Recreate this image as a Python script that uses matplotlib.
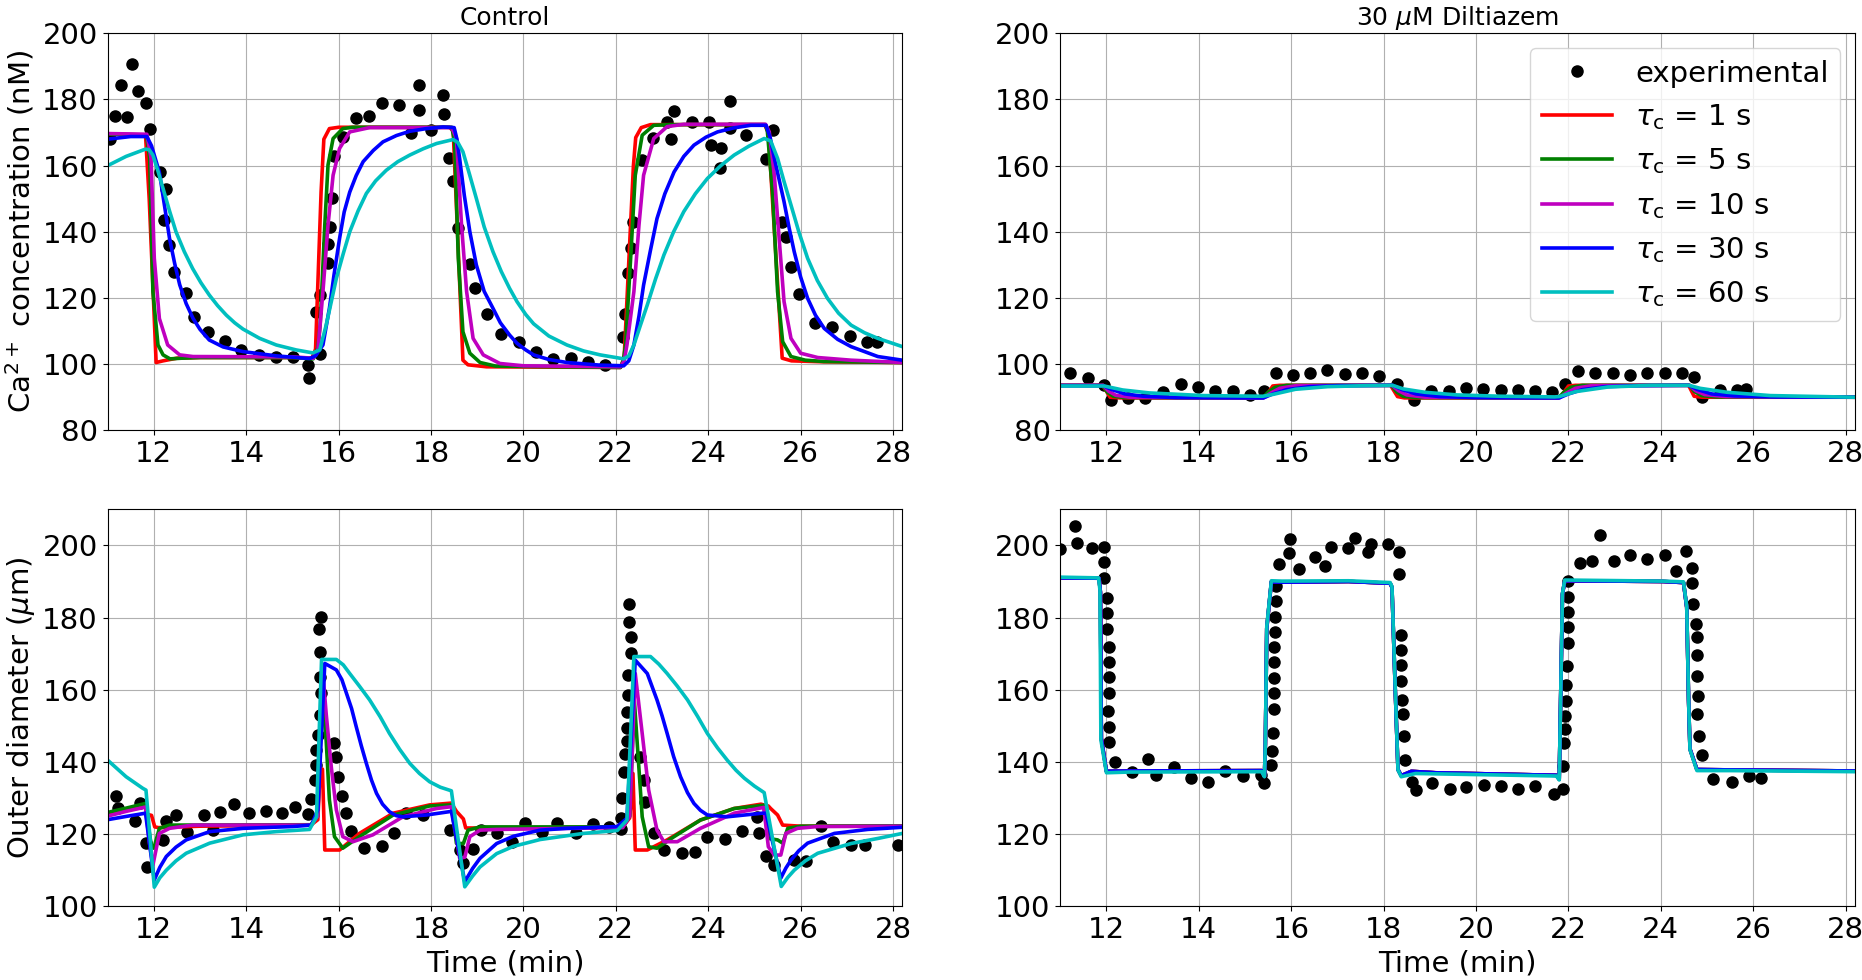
import numpy as np
from matplotlib import pyplot as plt

# ---- experimental data (time in min, value) ----

ca_ctl_exp = [(11.05,168.2),(11.17,175.1),(11.28,184.5),(11.42,174.8),(11.52,190.6),(11.65,182.6),
              (11.82,178.9),(11.91,171.1),(12.14,158.1),(12.23,143.5),(12.27,152.8),(12.32,136.0),
              (12.43,127.9),(12.69,121.4),(12.88,114.3),(13.17,109.6),(13.53,107.0),(13.89,104.3),
              (14.27,102.8),(14.64,102.3),(15.01,102.1),(15.34,99.7),(15.35,95.9),(15.52,115.9),
              (15.60,103.0),(15.60,121.0),(15.77,130.5),(15.78,136.2),(15.82,141.5),(15.86,150.3),
              (15.91,162.9),(16.09,168.7),(16.37,174.5),(16.65,175.0),(16.93,179.0),(17.31,178.3),
              (17.57,170.0),(17.73,184.4),(17.75,176.7),(17.99,170.7),(18.25,181.4),(18.27,175.5),
              (18.39,162.2),(18.48,155.4),(18.59,141.3),(18.84,130.3),(18.96,122.9),(19.22,115.1),
              (19.52,109.0),(19.91,106.6),(20.27,103.8),(20.65,101.5),(21.02,102.0),(21.40,100.7),
              (21.77,99.7),(22.16,108.1),(22.19,115.3),(22.27,127.7),(22.32,135.0),(22.37,143.0),
              (22.57,161.7),(22.81,168.4),(23.11,173.3),(23.19,168.2),(23.26,176.4),(23.64,173.3),
              (24.02,173.3),(24.05,166.2),(24.25,159.4),(24.27,165.4),(24.47,179.5),(24.47,171.4),
              (24.81,169.2),(25.25,162.0),(25.41,170.7),(25.59,143.0),(25.68,138.3),(25.79,129.3),
              (25.96,121.3),(26.30,112.3),(26.68,111.2),(27.06,108.5),(27.43,106.8),(27.66,106.8)]

ca_dil_exp = [(11.22,97.4),(11.61,95.8),(11.95,93.8),(12.09,89.3),(12.47,89.9),(12.84,89.9),
              (13.23,91.7),(13.61,94.1),(13.99,93.1),(14.36,91.8),(14.73,91.8),(15.11,90.8),
              (15.41,91.8),(15.66,97.4),(16.03,96.6),(16.40,97.2),(16.78,98.2),(17.16,97.0),
              (17.54,97.4),(17.91,96.4),(18.29,94.1),(18.66,89.1),(19.03,92.0),(19.41,92.0),
              (19.78,92.7),(20.15,92.5),(20.53,92.1),(20.90,92.1),(21.28,92.0),(21.65,91.7),
              (21.93,94.0),(22.21,98.0),(22.58,97.2),(22.96,97.2),(23.33,96.8),(23.70,97.4),
              (24.08,97.4),(24.45,97.4),(24.71,96.2),(24.89,90.1),(25.27,92.1),(25.64,92.3),
              (25.85,92.5)]

d_ctl_exp = [(11.18,130.6),(11.22,127.1),(11.60,123.7),(11.69,128.5),(11.82,117.5),(11.85,111.0),
             (12.20,118.4),(12.27,123.7),(12.47,125.3),(12.71,120.7),(13.08,125.3),(13.28,121.1),
             (13.44,126.0),(13.74,128.3),(14.06,125.8),(14.42,126.4),(14.78,125.8),(15.06,127.4),
             (15.34,125.5),(15.40,129.6),(15.49,135.0),(15.50,139.2),(15.52,143.3),(15.55,147.5),
             (15.60,153.0),(15.62,159.0),(15.60,163.6),(15.60,170.5),(15.57,176.7),(15.62,180.1),
             (15.89,145.2),(15.95,141.5),(15.99,135.9),(16.08,130.6),(16.17,125.8),(16.27,121.0),
             (16.54,116.1),(16.93,116.7),(17.19,120.4),(17.45,125.8),(17.83,125.3),(18.41,121.2),
             (18.62,115.6),(18.70,112.0),(18.91,115.9),(19.09,121.2),(19.42,120.4),(19.75,117.8),
             (20.04,123.0),(20.40,120.7),(20.72,123.0),(21.14,120.2),(21.50,122.8),(21.85,122.1),
             (22.11,121.3),(22.11,124.4),(22.13,129.9),(22.17,137.3),(22.19,142.2),(22.24,145.8),
             (22.24,149.3),(22.24,153.7),(22.26,158.5),(22.27,164.2),(22.32,170.3),(22.32,174.7),
             (22.28,178.9),(22.28,183.7),(22.52,141.5),(22.60,135.0),(22.64,129.0),(22.82,120.2),
             (23.05,115.6),(23.43,114.7),(23.72,115.0),(23.98,119.3),(24.36,118.6),(24.72,121.0),
             (25.05,124.8),(25.10,120.4),(25.25,113.9),(25.43,111.4),(25.86,112.8),(26.11,112.6),
             (26.45,122.3),(26.71,117.9),(27.08,117.0),(27.40,117.0),(28.10,117.0)]

d_dil_exp = [(11.00,199.0),(11.32,205.5),(11.36,200.7),(11.68,199.4),(11.94,199.6),(11.94,195.5),
             (11.95,191.1),(12.01,185.3),(12.01,181.2),(12.01,176.9),(12.06,171.9),(12.06,167.6),
             (12.06,163.4),(12.06,159.0),(12.04,154.2),(12.06,149.8),(12.06,145.6),(12.19,140.0),
             (12.56,137.3),(12.90,140.9),(13.08,136.3),(13.46,138.7),(13.83,135.5),(14.19,134.5),
             (14.57,137.4),(14.95,136.1),(15.34,136.3),(15.42,134.1),(15.56,139.1),(15.58,143.0),
             (15.60,148.1),(15.62,154.7),(15.62,159.0),(15.63,163.3),(15.63,167.6),(15.63,171.9),
             (15.64,176.1),(15.64,180.2),(15.66,184.7),(15.68,188.7),(15.74,194.8),(15.96,198.0),
             (15.98,201.8),(16.17,193.4),(16.51,196.7),(16.72,194.4),(16.87,199.6),(17.23,199.3),
             (17.37,202.1),(17.66,198.1),(17.73,200.3),(18.09,200.4),(18.34,198.1),(18.34,192.2),
             (18.38,175.3),(18.38,171.0),(18.38,166.9),(18.38,162.5),(18.40,157.2),(18.42,153.2),
             (18.44,147.3),(18.47,140.5),(18.61,134.5),(18.70,132.2),(19.05,134.3),(19.43,132.4),
             (19.79,133.1),(20.17,133.7),(20.53,133.3),(20.91,132.6),(21.27,133.3),(21.68,131.1),
             (21.89,132.6),(21.89,139.0),(21.91,145.2),(21.92,149.0),(21.93,152.7),(21.94,157.0),
             (21.94,161.3),(21.96,166.7),(21.99,173.0),(21.99,177.4),(21.99,181.6),(22.00,185.8),
             (21.99,190.1),(22.25,195.2),(22.52,195.8),(22.68,202.9),(22.98,195.8),(23.34,197.4),
             (23.71,196.3),(24.10,197.4),(24.32,193.0),(24.54,198.5),(24.68,193.6),(24.68,189.5),
             (24.70,183.9),(24.75,178.2),(24.78,174.7),(24.78,169.5),(24.78,163.8),(24.80,158.3),
             (24.79,153.2),(24.82,147.2),(24.89,141.9),(25.12,135.4),(25.53,134.5),(25.90,136.1),
             (26.16,135.6)]

# ---- model curves, one per tau_c ----

ca_ctl_tau1 = [(11.0,169.5),(11.82,169.3),(11.9,150),(12.05,100.5),(12.2,101.0),(12.5,101.8),(13.0,102.0),
               (15.0,102.0),(15.42,101.8),(15.5,104.5),(15.62,152),(15.68,168),(15.8,171.2),(16.0,171.6),
               (18.4,171.6),(18.48,170.5),(18.69,101.2),(18.8,99.8),(19.2,99.2),(22.1,99.0),(22.18,102),
               (22.38,160),(22.43,168.5),(22.55,171.5),(22.75,172.4),(25.22,172.4),(25.3,170),(25.6,101.8),
               (25.8,101.0),(26.5,100.7),(28.2,100.5)]
ca_ctl_tau5 = [(11.0,169.5),(11.84,169.3),(11.91,162.2),(11.98,121.9),(12.09,105.8),(12.2,102.8),(12.35,101.6),
               (12.6,101.8),(13.0,102.0),(15.0,102.0),(15.45,101.6),(15.55,105),(15.6,111.8),(15.7,142),
               (15.77,160.2),(15.88,168.2),(16.09,171.2),(16.3,171.6),(18.45,171.6),(18.51,167.2),(18.59,132),
               (18.69,109.8),(18.84,103.3),(19.06,100.5),(19.4,99.4),(22.1,99.0),(22.16,101),(22.21,105.8),
               (22.32,132),(22.42,157.1),(22.57,169.2),(22.82,172.2),(23.2,172.4),(25.24,172.4),(25.28,170.2),
               (25.39,152.1),(25.5,121.9),(25.61,106.8),(25.79,102.3),(26.1,101.2),(26.5,100.8),(28.2,100.5)]
ca_ctl_tau10 = [(11.0,169.7),(11.85,169.5),(11.94,162.2),(12.01,132),(12.12,113.8),(12.3,105.8),(12.56,102.8),
                (12.85,102.3),(15.0,102.2),(15.45,101.8),(15.55,104),(15.66,121.9),(15.77,142),(15.88,157.1),
                (16.02,165.2),(16.24,170.2),(16.67,171.5),(18.45,171.5),(18.55,168.2),(18.66,142),(18.77,121.9),
                (18.91,107.8),(19.13,102.8),(19.49,100.2),(20.0,99.5),(22.1,99.2),(22.18,101),(22.24,105.8),
                (22.39,121.9),(22.5,142),(22.6,157.1),(22.82,168.2),(23.11,171.8),(23.47,172.5),(25.24,172.5),
                (25.32,170.2),(25.43,157.1),(25.54,136.9),(25.64,118.9),(25.79,107.8),(26.0,103.3),(26.37,102),
                (27.09,101.2),(28.2,100.5)]
ca_ctl_tau30 = [(11.0,168.0),(11.5,168.8),(11.85,168.8),(11.95,166),(12.12,158),(12.23,148),(12.34,138),
                (12.45,130.5),(12.56,124),(12.7,118.3),(12.85,113.8),(13.0,110.5),(13.2,107.3),(13.5,105.2),
                (13.93,103.8),(14.65,102.5),(15.37,101.7),(15.5,102.5),(15.66,105.8),(15.8,116.9),(15.9,127),
                (16.02,138),(16.12,146),(16.24,152),(16.38,157),(16.53,161.2),(16.75,164.6),(16.96,167.2),
                (17.25,169.1),(17.54,170.4),(17.9,171.2),(18.26,171.7),(18.5,171.5),(18.56,168),(18.62,162),
                (18.72,151),(18.84,140),(18.98,130),(19.15,122),(19.34,116.9),(19.5,112.5),(19.7,108.8),
                (19.86,106.3),(20.05,104.3),(20.22,102.8),(20.55,101.4),(20.94,100.5),(21.66,99.7),(22.17,99.5),
                (22.28,101),(22.39,105.8),(22.5,114.5),(22.6,123.9),(22.75,134.5),(22.89,144),(23.06,151.5),
                (23.26,158.1),(23.47,162.8),(23.69,166.2),(23.95,168.6),(24.2,170.2),(24.55,171.4),(24.92,172.2),
                (25.25,172.2),(25.34,168.5),(25.43,162.2),(25.53,156),(25.64,149.1),(25.75,141.2),(25.86,134),
                (26.0,126.3),(26.15,119.9),(26.32,114.8),(26.51,110.8),(26.8,107.5),(27.09,105.3),(27.67,102.3),
                (28.2,101.2)]
ca_ctl_tau60 = [(11.0,160.0),(11.4,162.8),(11.82,165.0),(11.9,164.8),(11.98,163.2),(12.08,158.8),(12.2,153.1),
                (12.34,146.3),(12.48,140),(12.66,134.0),(12.84,128.9),(13.02,124.6),(13.2,120.9),(13.38,117.7),
                (13.57,114.8),(13.75,112.5),(13.93,110.6),(14.29,107.8),(14.65,105.8),(15.08,104.3),(15.44,103.4),
                (15.59,104.3),(15.73,111.8),(15.84,118.8),(15.95,125.9),(16.1,133.4),(16.24,140),(16.42,146.3),
                (16.6,151.6),(16.8,155.4),(17.03,158.6),(17.28,161.2),(17.54,163.2),(17.83,165.1),(18.12,166.7),
                (18.48,167.9),(18.58,167.0),(18.69,164.2),(18.83,157.5),(18.98,150.1),(19.15,141.5),(19.34,134),
                (19.52,128),(19.7,122.9),(19.86,118.9),(20.05,115.0),(20.22,112.2),(20.55,108.5),(20.94,105.8),
                (21.3,104.0),(21.66,102.8),(22.17,101.6),(22.28,102.5),(22.39,105.8),(22.53,111.7),(22.68,117.9),
                (22.86,125.8),(23.04,133),(23.25,140.0),(23.47,146.1),(23.72,151.5),(23.98,156.1),(24.27,160.0),
                (24.56,163.2),(24.88,165.9),(25.21,168.2),(25.35,167.5),(25.5,162.2),(25.64,155.2),(25.79,148.1),
                (25.96,140.0),(26.15,132),(26.36,125.3),(26.58,119.9),(26.82,115.4),(27.09,111.8),(27.38,109.5),
                (27.67,107.8),(28.2,105.3)]

ca_dil_tau1 = [(11.0,93.6),(11.92,93.6),(12.08,90.0),(12.3,89.8),(15.35,89.8),(15.45,90.2),(15.6,93.4),
               (15.75,93.6),(18.15,93.6),(18.3,90.2),(18.45,89.8),(21.75,89.8),(21.85,90.5),(22.0,93.4),
               (22.15,93.6),(24.6,93.6),(24.72,90.3),(24.9,90.0),(28.2,90.0)]
ca_dil_tau5 = [(11.0,93.6),(11.92,93.6),(12.02,91.5),(12.15,90.3),(12.4,89.9),(15.38,89.8),(15.5,91.5),
               (15.65,93.0),(15.9,93.6),(18.17,93.6),(18.28,91.6),(18.42,90.3),(18.7,89.9),(21.78,89.8),
               (21.9,91.5),(22.05,93.0),(22.3,93.6),(24.62,93.6),(24.72,91.8),(24.88,90.5),(25.2,90.1),(28.2,90.0)]
ca_dil_tau10 = [(11.0,93.6),(11.93,93.6),(12.05,91.8),(12.2,90.6),(12.5,90.0),(15.4,89.8),(15.55,91.2),
                (15.75,92.7),(16.1,93.5),(18.18,93.6),(18.32,92.0),(18.5,90.7),(18.9,90.0),(21.8,89.8),
                (21.95,91.2),(22.15,92.7),(22.5,93.5),(24.62,93.6),(24.75,92.0),(24.95,90.8),(25.4,90.2),(28.2,90.0)]
ca_dil_tau30 = [(11.0,93.5),(11.93,93.5),(12.1,92.4),(12.4,91.0),(12.8,90.3),(13.5,89.9),(15.4,89.8),
                (15.6,91.0),(15.9,92.3),(16.4,93.2),(17.0,93.5),(18.2,93.6),(18.4,92.3),(18.7,91.0),(19.2,90.2),
                (20.0,89.9),(21.8,89.8),(22.0,91.0),(22.3,92.3),(22.8,93.2),(23.5,93.5),(24.6,93.6),(24.8,92.3),
                (25.1,91.0),(25.6,90.4),(26.5,90.1),(28.2,90.0)]
ca_dil_tau60 = [(11.0,93.4),(11.95,93.4),(12.35,92.2),(12.93,91.3),(13.52,90.9),(14.1,90.5),(15.39,90.3),
                (15.62,90.9),(16.09,92.4),(16.79,93.2),(17.61,93.5),(18.19,93.6),(18.43,92.5),(18.89,91.5),
                (19.59,90.7),(20.53,90.3),(21.7,90.1),(21.8,90.2),(22.16,91.7),(22.86,93.1),(23.8,93.6),
                (24.61,93.6),(24.85,92.7),(25.43,91.5),(26.37,90.5),(28.2,90.0)]

d_ctl_tau1 = [(11.0,125.5),(11.4,126.8),(11.82,128.1),(11.85,125.5),(11.95,125.2),(12.02,122),(12.1,121.8),
              (13.0,122.2),(15.4,122.5),(15.55,124),(15.6,138),(15.65,138),(15.7,115.6),(16.02,115.6),
              (16.45,120.2),(17.18,125.8),(17.97,128.1),(18.44,128.6),(18.55,126.3),(18.7,124.2),(18.75,121.7),
              (19.06,121.7),(20.0,121.7),(22.15,122.0),(22.3,124.5),(22.37,136.8),(22.42,115.6),(22.68,115.6),
              (23.11,118.4),(23.83,123.9),(24.56,127.1),(25.14,128.3),(25.3,127.8),(25.35,127.1),(25.5,125.3),
              (25.61,122.5),(26.0,122.2),(28.2,122.2)]
d_ctl_tau5 = [(11.0,126.0),(11.4,127.2),(11.82,128.5),(11.86,124),(11.95,116.5),(12.0,116.1),(12.12,121.6),
              (12.34,122.5),(15.4,122.6),(15.55,125),(15.63,160),(15.73,146),(15.8,129.5),(15.91,119.3),
              (16.09,116.1),(16.45,119.3),(17.18,125.3),(17.97,127.8),(18.44,128.1),(18.55,117.4),(18.7,117.4),
              (18.8,121.1),(19.06,122.0),(22.15,122.0),(22.3,125),(22.4,157),(22.57,124.8),(22.71,116.5),
              (22.89,116.1),(23.26,119.3),(23.83,123.9),(24.56,127.1),(25.2,128.0),(25.3,118.8),(25.5,118.4),
              (25.61,117.5),(25.72,121.6),(26.0,122.2),(28.2,122.3)]
d_ctl_tau10 = [(11.0,125.0),(11.4,126.3),(11.82,127.5),(11.9,118),(11.98,111.4),(12.12,120.2),(12.34,121.6),
               (12.84,122.5),(15.4,122.5),(15.55,125),(15.66,164.5),(15.73,153.4),(15.84,138.7),(15.95,126.7),
               (16.09,119.3),(16.31,117.9),(16.74,119.8),(17.39,124.8),(18.12,127.1),(18.44,127.6),(18.62,113.3),
               (18.73,113.6),(18.84,119.3),(19.06,121.1),(19.42,121.3),(22.15,121.8),(22.3,125),(22.42,164.5),
               (22.57,147.9),(22.71,132.2),(22.89,121.1),(23.04,117.9),(23.33,117.9),(23.83,121.6),(24.56,125.8),
               (25.2,127.4),(25.3,116.5),(25.43,114.2),(25.57,114.2),(25.68,120.2),(25.93,121.6),(26.37,122.1),
               (28.2,122.2)]
d_ctl_tau30 = [(11.0,124.0),(11.4,124.9),(11.82,125.8),(12.01,107.3),(12.13,110.8),(12.27,113.8),(12.48,116.4),
               (12.7,118.4),(13.21,120.7),(13.93,121.6),(15.01,122.1),(15.41,122.5),(15.55,126.7),(15.7,167.3),
               (15.95,165.5),(16.07,162.8),(16.17,159),(16.28,154.8),(16.38,149.8),(16.49,144.5),(16.6,139.6),
               (16.71,135.0),(16.82,131.3),(16.95,128.3),(17.1,126.2),(17.25,125.1),(17.39,124.8),(17.9,125.3),
               (18.44,126.3),(18.73,106.8),(18.9,110.5),(19.06,113.3),(19.42,117.4),(19.78,119.4),(20.36,121.1),
               (20.94,121.6),(22.03,122.1),(22.24,124.4),(22.42,168.2),(22.68,164.5),(22.89,157.2),(23.0,152.8),
               (23.11,147.9),(23.25,141.5),(23.4,135.9),(23.55,131.5),(23.69,128.5),(23.83,126.6),(23.98,125.3),
               (24.41,124.8),(25.17,125.8),(25.25,125.8),(25.57,107.8),(25.68,110.6),(25.79,112.8),(25.96,115.4),
               (26.15,117.5),(26.73,120.2),(27.45,121.3),(28.2,121.9)]
d_ctl_tau60 = [(11.0,140.5),(11.4,135.9),(11.76,132.7),(11.83,132.2),(12.01,105.3),(12.13,107.9),(12.27,110),
               (12.48,112.6),(12.7,114.7),(13.21,117.5),(13.93,119.8),(14.65,120.7),(15.37,121.3),(15.52,124.8),
               (15.63,168.4),(15.95,168.4),(16.1,166.9),(16.24,164.5),(16.45,161.0),(16.67,157.2),(16.9,152.5),
               (17.1,147.9),(17.32,143.5),(17.54,139.6),(17.75,136.8),(17.97,134.5),(18.2,133.0),(18.44,132.0),
               (18.73,105.4),(18.9,108.4),(19.06,110.9),(19.42,114.6),(19.78,116.6),(20.36,118.5),(21.3,120.2),
               (22.03,121.0),(22.24,123.9),(22.39,169.2),(22.75,169.2),(22.93,167.1),(23.11,164.5),(23.33,161.0),
               (23.55,157.2),(23.77,152.6),(23.98,147.9),(24.2,143.9),(24.41,140.5),(24.6,137.7),(24.78,135.5),
               (25.0,133.3),(25.21,131.5),(25.58,105.5),(25.72,108.0),(25.86,110),(26.1,112.6),(26.37,114.7),
               (27.09,117.4),(27.67,118.8),(28.2,120.2)]

# in diltiazem the diameter curves all sit on top of each other
d_dil_fast = [(11.0,191.0),(11.84,190.9),(11.87,187.0),(11.89,146.5),(12.0,137.4),(12.5,137.5),(15.36,137.6),
              (15.42,136.0),(15.44,145.0),(15.47,177.0),(15.57,189.9),(15.8,189.8),(17.24,190.0),(18.14,189.5),
              (18.18,188.4),(18.25,160.5),(18.31,137.9),(18.38,136.2),(18.6,137.4),(19.12,137.0),(21.74,136.3),
              (21.8,135.2),(21.83,157.0),(21.87,186.5),(21.92,190.2),(24.05,190.0),(24.49,189.7),(24.56,182.8),
              (24.6,157.0),(24.63,143.6),(24.78,137.9),(25.5,137.8),(28.2,137.5)]
d_dil_tau60 = [(11.0,191.2),(11.83,191.0),(11.86,187.6),(11.88,146.1),(12.0,137.0),(12.5,137.2),(15.36,137.3),
               (15.42,135.9),(15.44,145.2),(15.47,177.5),(15.57,190.2),(15.8,190.1),(17.24,190.2),(18.14,189.7),
               (18.18,188.6),(18.25,160.8),(18.31,137.8),(18.38,135.9),(18.69,136.8),(19.12,136.7),(21.74,136.1),
               (21.8,135.0),(21.83,157.2),(21.87,186.7),(21.92,190.4),(24.05,190.1),(24.49,189.9),(24.56,183),
               (24.6,157.2),(24.63,143.4),(24.78,137.6),(25.5,137.6),(28.2,137.3)]

taus = [1, 5, 10, 30, 60]
colors = ["r", "g", "m", "b", "c"]

panels = [
    (ca_ctl_exp, [ca_ctl_tau1, ca_ctl_tau5, ca_ctl_tau10, ca_ctl_tau30, ca_ctl_tau60]),
    (ca_dil_exp, [ca_dil_tau1, ca_dil_tau5, ca_dil_tau10, ca_dil_tau30, ca_dil_tau60]),
    (d_ctl_exp, [d_ctl_tau1, d_ctl_tau5, d_ctl_tau10, d_ctl_tau30, d_ctl_tau60]),
    (d_dil_exp, [d_dil_fast, d_dil_fast, d_dil_fast, d_dil_fast, d_dil_tau60]),
]

fig = plt.figure(figsize=(18.62, 9.8), dpi=100)
lefts = [0.0578, 0.5694]
bottoms = [0.5609, 0.0752]
w, h = 0.4268, 0.4051

axes = []
for i in range(4):
    row, col = divmod(i, 2)
    ax = fig.add_axes([lefts[col], bottoms[row], w, h])
    axes.append(ax)
    exp, curves = panels[i]
    exp = np.array(exp)
    ax.plot(exp[:, 0], exp[:, 1], "ko", markersize=8, label="experimental")
    for tau, c, cur in zip(taus, colors, curves):
        cur = np.array(cur)
        ax.plot(cur[:, 0], cur[:, 1], color=c, lw=2.6, label=r"$\tau_\mathrm{c}$ = %d s" % tau)
    ax.set_xlim(11, 28.2)
    ax.set_xticks(np.arange(12, 29, 2))
    ax.tick_params(labelsize=21)
    ax.grid(True)
    if row == 0:
        ax.set_ylim(80, 200)
        ax.set_yticks(np.arange(80, 201, 20))
    else:
        ax.set_ylim(100, 210)
        ax.set_yticks(np.arange(100, 201, 20))
        ax.set_xlabel("Time (min)", fontsize=21)

axes[0].set_title("Control", fontsize=18)
axes[1].set_title(r"30 $\mu$M Diltiazem", fontsize=18)
axes[0].set_ylabel(r"Ca$^{2+}$ concentration (nM)", fontsize=21)
axes[2].set_ylabel(r"Outer diameter ($\mu$m)", fontsize=21)
axes[1].legend(loc="upper right", fontsize=21, numpoints=1, handlelength=2.4)

plt.savefig("out.png", dpi=100)
